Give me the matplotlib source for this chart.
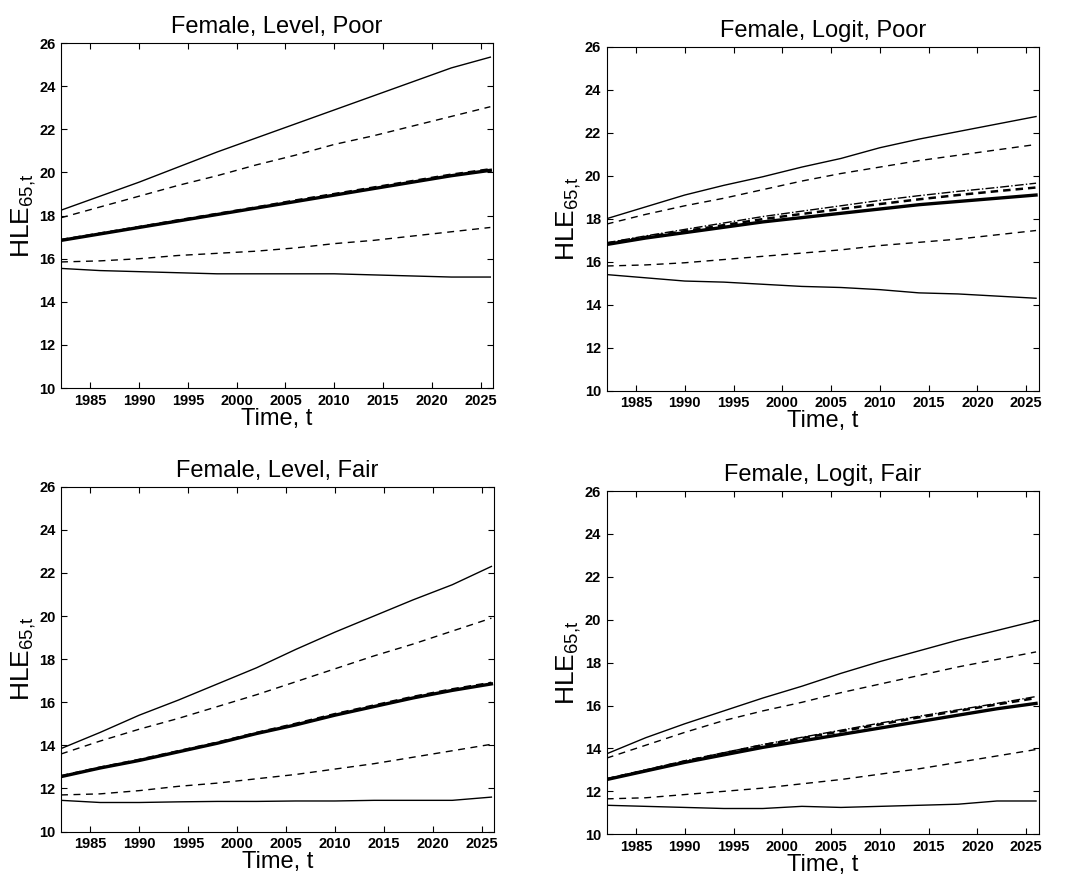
import numpy as np
import matplotlib
matplotlib.use("Agg")
import matplotlib.pyplot as plt

plt.rcParams["font.family"] = ["Liberation Sans", "DejaVu Sans"]
plt.rcParams["mathtext.fontset"] = "custom"
plt.rcParams["mathtext.rm"] = "Liberation Sans"
plt.rcParams["mathtext.it"] = "Liberation Sans"

years = [1982, 1986, 1990, 1994, 1998, 2002, 2006, 2010, 2014, 2018, 2022, 2026]

# Female, Level, Poor
lp_hi = [18.25, 18.9, 19.55, 20.25, 20.95, 21.6, 22.25, 22.9, 23.55, 24.2, 24.85, 25.35]
lp_hi_d = [17.9, 18.4, 18.9, 19.4, 19.85, 20.35, 20.8, 21.3, 21.7, 22.15, 22.6, 23.05]
lp_med = [16.85, 17.15, 17.45, 17.75, 18.05, 18.35, 18.65, 18.95, 19.25, 19.55, 19.85, 20.1]
lp_mean = [16.87, 17.17, 17.47, 17.78, 18.08, 18.38, 18.7, 19.0, 19.3, 19.6, 19.9, 20.15]
lp_lo_d = [15.85, 15.9, 16.0, 16.15, 16.25, 16.35, 16.5, 16.7, 16.85, 17.05, 17.25, 17.45]
lp_lo = [15.55, 15.45, 15.4, 15.35, 15.3, 15.3, 15.3, 15.3, 15.25, 15.2, 15.15, 15.15]

# Female, Logit, Poor
gp_hi = [18.0, 18.55, 19.1, 19.55, 19.95, 20.4, 20.8, 21.3, 21.7, 22.05, 22.4, 22.75]
gp_hi_d = [17.75, 18.2, 18.6, 18.95, 19.35, 19.75, 20.1, 20.4, 20.7, 20.95, 21.2, 21.45]
gp_med = [16.8, 17.1, 17.35, 17.6, 17.85, 18.05, 18.25, 18.45, 18.65, 18.8, 18.95, 19.1]
gp_mean = [16.85, 17.15, 17.42, 17.7, 17.98, 18.22, 18.45, 18.68, 18.9, 19.1, 19.28, 19.45]
gp_dd = [16.88, 17.2, 17.5, 17.8, 18.1, 18.35, 18.6, 18.85, 19.07, 19.27, 19.45, 19.65]
gp_lo_d = [15.8, 15.85, 15.95, 16.1, 16.25, 16.4, 16.55, 16.75, 16.9, 17.05, 17.25, 17.45]
gp_lo = [15.4, 15.25, 15.1, 15.05, 14.95, 14.85, 14.8, 14.7, 14.55, 14.5, 14.4, 14.3]

# Female, Level, Fair
lf_hi = [13.85, 14.6, 15.4, 16.1, 16.85, 17.6, 18.45, 19.25, 20.0, 20.75, 21.45, 22.3]
lf_hi_d = [13.6, 14.2, 14.75, 15.25, 15.8, 16.35, 16.95, 17.55, 18.15, 18.7, 19.3, 19.9]
lf_med = [12.55, 12.95, 13.3, 13.7, 14.1, 14.55, 14.95, 15.4, 15.8, 16.2, 16.55, 16.85]
lf_mean = [12.57, 12.97, 13.33, 13.73, 14.13, 14.58, 15.0, 15.45, 15.85, 16.25, 16.6, 16.9]
lf_lo_d = [11.7, 11.75, 11.9, 12.1, 12.25, 12.45, 12.65, 12.9, 13.15, 13.45, 13.75, 14.05]
lf_lo = [11.45, 11.35, 11.35, 11.38, 11.4, 11.4, 11.42, 11.42, 11.45, 11.45, 11.45, 11.6]

# Female, Logit, Fair
gf_hi = [13.75, 14.5, 15.15, 15.75, 16.35, 16.9, 17.5, 18.05, 18.55, 19.05, 19.5, 19.95]
gf_hi_d = [13.55, 14.15, 14.75, 15.3, 15.75, 16.15, 16.6, 17.0, 17.4, 17.8, 18.15, 18.5]
gf_med = [12.55, 12.95, 13.35, 13.7, 14.05, 14.35, 14.65, 14.95, 15.25, 15.55, 15.85, 16.1]
gf_mean = [12.57, 12.98, 13.4, 13.78, 14.15, 14.48, 14.8, 15.12, 15.45, 15.75, 16.05, 16.35]
gf_dd = [12.58, 13.0, 13.42, 13.8, 14.18, 14.52, 14.85, 15.18, 15.5, 15.8, 16.1, 16.42]
gf_lo_d = [11.65, 11.7, 11.85, 12.0, 12.15, 12.35, 12.55, 12.8, 13.05, 13.35, 13.65, 13.95]
gf_lo = [11.35, 11.3, 11.25, 11.2, 11.2, 11.3, 11.25, 11.3, 11.35, 11.4, 11.55, 11.55]

panels = [
    ("Female, Level, Poor", [0.057, 0.559, 0.404, 0.392],
     lp_hi, lp_hi_d, lp_med, lp_mean, None, lp_lo_d, lp_lo),
    ("Female, Logit, Poor", [0.567, 0.556, 0.404, 0.391],
     gp_hi, gp_hi_d, gp_med, gp_mean, gp_dd, gp_lo_d, gp_lo),
    ("Female, Level, Fair", [0.057, 0.055, 0.405, 0.392],
     lf_hi, lf_hi_d, lf_med, lf_mean, None, lf_lo_d, lf_lo),
    ("Female, Logit, Fair", [0.567, 0.052, 0.404, 0.390],
     gf_hi, gf_hi_d, gf_med, gf_mean, gf_dd, gf_lo_d, gf_lo),
]

fig = plt.figure(figsize=(10.7, 8.8), dpi=100)

for title, pos, hi, hi_d, med, mean, dd, lo_d, lo in panels:
    ax = fig.add_axes(pos)
    ax.plot(years, hi, "k-", lw=1.0)
    ax.plot(years, hi_d, "k--", lw=1.0, dashes=(5, 4))
    if dd is not None:
        ax.plot(years, dd, "k-.", lw=1.0)
    ax.plot(years, mean, "k--", lw=1.8, dashes=(3, 2))
    ax.plot(years, med, "k-", lw=2.4)
    ax.plot(years, lo_d, "k--", lw=1.0, dashes=(5, 4))
    ax.plot(years, lo, "k-", lw=1.0)

    ax.set_xlim(1982, 2026.3)
    ax.set_ylim(10, 26)
    ax.set_xticks(np.arange(1985, 2026, 5))
    ax.set_yticks(np.arange(10, 27, 2))
    ax.tick_params(direction="in", top=True, right=True, length=4,
                   labelsize=10.5, pad=4)
    for lab in ax.get_xticklabels() + ax.get_yticklabels():
        lab.set_fontweight("bold")
    ax.set_title(title, fontsize=17, pad=7)
    ax.set_xlabel("Time, t", fontsize=17, labelpad=0)
    ax.set_ylabel(r"HLE$_{\mathrm{65{,}t}}$", fontsize=19, labelpad=1)

fig.savefig("out.png", dpi=100)
